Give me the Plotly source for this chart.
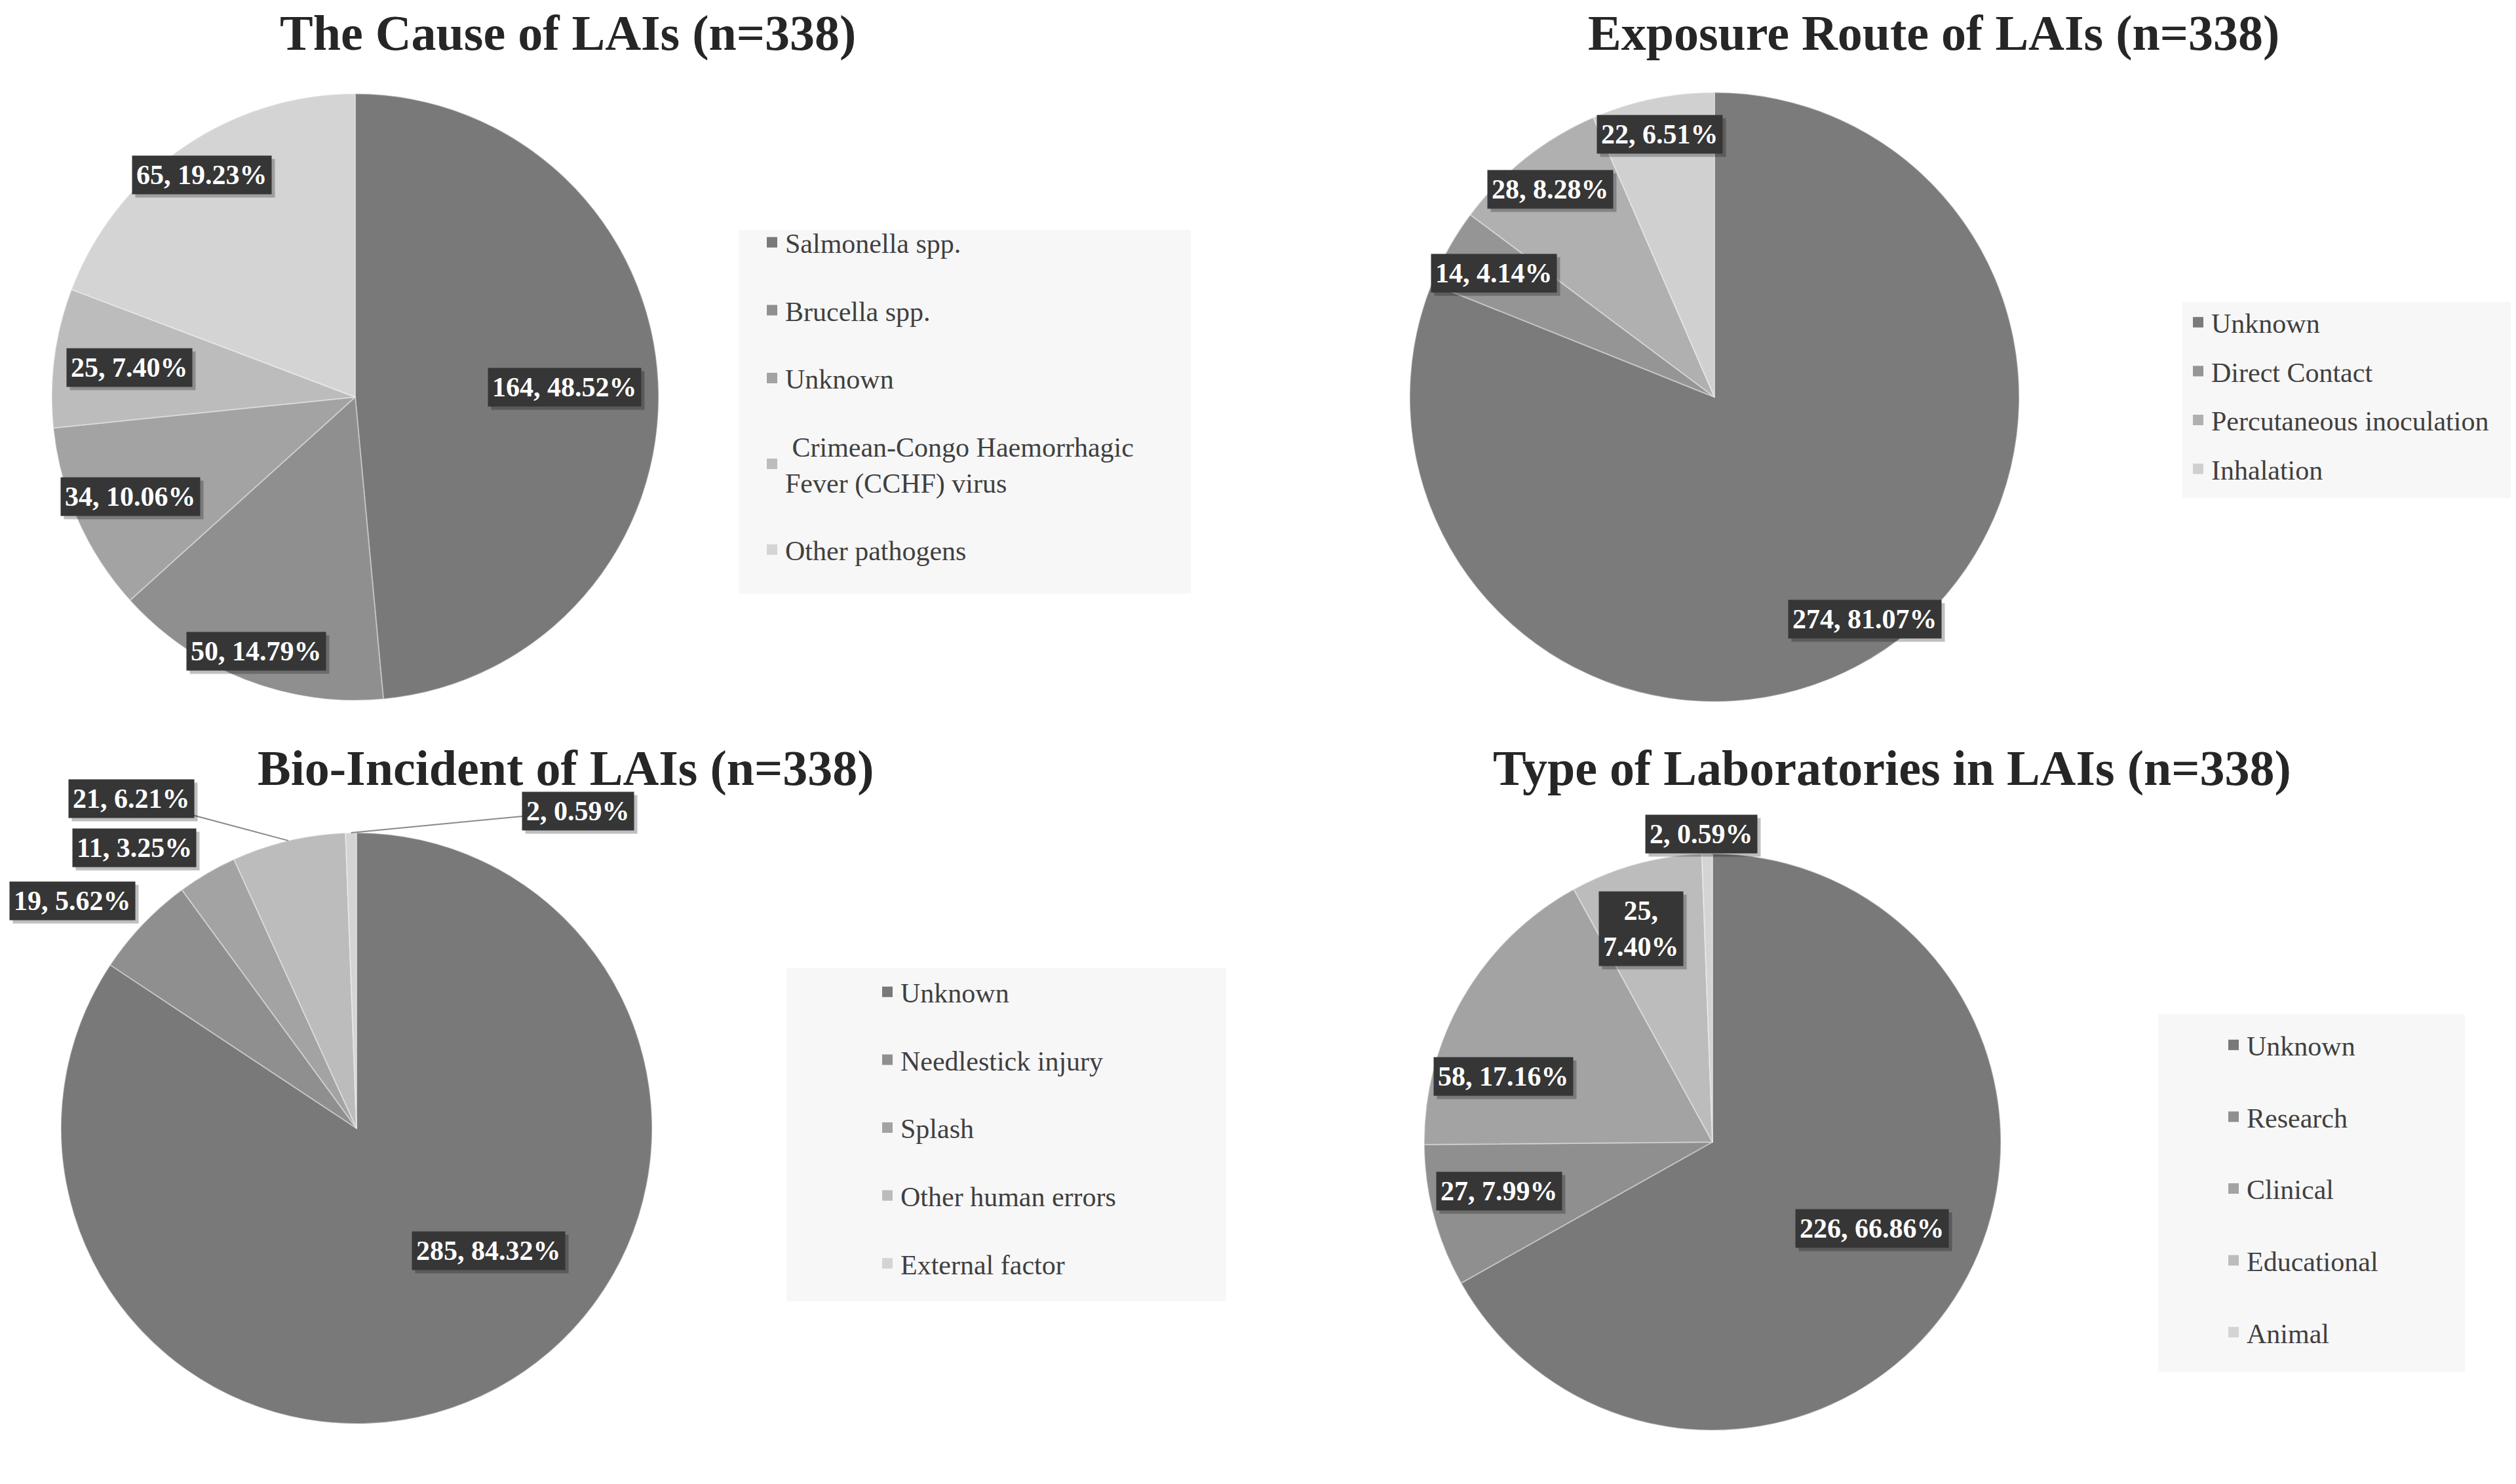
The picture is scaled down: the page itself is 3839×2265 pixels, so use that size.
import math
import plotly.graph_objects as go

# figure size in px
W = 3839
H = 2265

# ---- data ----
cause_title = "The Cause of LAIs (n=338)"
cause_labels = ["Salmonella spp.", "Brucella spp.", "Unknown",
                " Crimean-Congo Haemorrhagic<br>Fever (CCHF) virus", "Other pathogens"]
cause_counts = [164, 50, 34, 25, 65]

route_title = "Exposure Route of LAIs (n=338)"
route_labels = ["Unknown", "Direct Contact", "Percutaneous inoculation", "Inhalation"]
route_counts = [274, 14, 28, 22]

incident_title = "Bio-Incident of LAIs (n=338)"
incident_labels = ["Unknown", "Needlestick injury", "Splash", "Other human errors", "External factor"]
incident_counts = [285, 19, 11, 21, 2]

lab_title = "Type of Laboratories in LAIs (n=338)"
lab_labels = ["Unknown", "Research", "Clinical", "Educational", "Animal"]
lab_counts = [226, 27, 58, 25, 2]

# ---- styling ----
grays5 = ["#797979", "#8f8f8f", "#a3a3a3", "#bcbcbc", "#d4d4d4"]
grays4 = ["#7b7b7b", "#959595", "#b0b0b0", "#d0d0d0"]
SERIF = "Liberation Serif"

charts = [
    dict(title=cause_title, labels=cause_labels, counts=cause_counts, colors=grays5,
         center=(534, 598), radius=463, title_pos=(858, 42),
         label_r=[0.69, 0.90, 0.81, 0.75, 0.89], label_nudge=[0, 0, 0, 0, 0],
         wrap=[], leader=[],
         legend_box=(1119, 343, 1809, 898), legend_pos=(1150, 328), gap=46),
    dict(title=route_title, labels=route_labels, counts=route_counts, colors=grays4,
         center=(2608, 598), radius=465, title_pos=(2942, 42),
         label_r=[0.88, 0.83, 0.87, 0.88], label_nudge=[0, 0, 0, 0],
         wrap=[], leader=[],
         legend_box=(3322, 453, 3839, 752), legend_pos=(3326, 450), gap=17),
    dict(title=incident_title, labels=incident_labels, counts=incident_counts, colors=grays5,
         center=(536, 1714), radius=451, title_pos=(855, 1164),
         label_r=[0.61, 1.23, 1.21, 1.35, 1.31], label_nudge=[-19, -5, -8, -21, 36],
         wrap=[], leader=[3, 4],
         legend_box=(1192, 1469, 1863, 1978), legend_pos=(1326, 1472), gap=46),
    dict(title=lab_title, labels=lab_labels, counts=lab_counts, colors=grays5,
         center=(2605, 1735), radius=440, title_pos=(2879, 1164),
         label_r=[0.63, 0.76, 0.76, 0.78, 1.07], label_nudge=[-2, 2, -13, -3, -1],
         wrap=[3], leader=[],
         legend_box=(3285, 1540, 3753, 2086), legend_pos=(3380, 1553), gap=52),
]


def px_x(x):
    return x / W


def px_y(y):
    return 1 - y / H


fig = go.Figure()
annotations = []
shapes = []
layout_legends = {}

for k, ch in enumerate(charts):
    cx, cy = ch["center"]
    r = ch["radius"]
    total = sum(ch["counts"])
    legend_name = "legend" if k == 0 else "legend%d" % (k + 1)

    fig.add_trace(go.Pie(
        labels=[l.replace("<br>", " ") for l in ch["labels"]],
        values=ch["counts"],
        marker=dict(colors=ch["colors"], line=dict(width=2, color="rgba(255,255,255,0.35)")),
        sort=False, direction="clockwise", rotation=0,
        textinfo="none", showlegend=False, hoverinfo="label+value+percent",
        domain=dict(x=[px_x(cx - r), px_x(cx + r)], y=[px_y(cy + r), px_y(cy - r)]),
    ))

    # legend entries (one group per slice so the gap spreads them out)
    for i, lab in enumerate(ch["labels"]):
        fig.add_trace(go.Scatter(
            x=[None], y=[None], mode="markers", name=lab,
            marker=dict(symbol="square", size=16, color=ch["colors"][i]),
            legend=legend_name, legendgroup="g%d_%d" % (k, i), showlegend=True,
            hoverinfo="skip",
        ))

    lx, ly = ch["legend_pos"]
    layout_legends[legend_name] = dict(
        x=px_x(lx), y=px_y(ly), xanchor="left", yanchor="top",
        bgcolor="rgba(0,0,0,0)", tracegroupgap=ch["gap"], itemwidth=30,
        font=dict(family=SERIF, size=42, color="#404040"),
    )

    # legend background box
    x0, y0, x1, y1 = ch["legend_box"]
    shapes.append(dict(type="rect", xref="paper", yref="paper",
                       x0=px_x(x0), x1=px_x(x1), y0=px_y(y1), y1=px_y(y0),
                       fillcolor="#f7f7f7", line=dict(width=0), layer="below"))

    # title
    tx, ty = ch["title_pos"]
    annotations.append(dict(text="<b>%s</b>" % ch["title"], x=px_x(tx), y=px_y(ty),
                            xref="paper", yref="paper", showarrow=False,
                            xanchor="center", yanchor="middle",
                            font=dict(family=SERIF, size=76, color="#262626")))

    # data labels, placed from the slice mid angles
    cum = 0
    for i, v in enumerate(ch["counts"]):
        mid = (cum + v / 2) / total * 360
        cum += v
        a = math.radians(mid + ch["label_nudge"][i])
        f = ch["label_r"][i]
        lxp = cx + f * r * math.sin(a)
        lyp = cy - f * r * math.cos(a)
        sep = ",<br>" if i in ch["wrap"] else ", "
        txt = "<b>%d%s%.2f%%</b>" % (v, sep, v / total * 100)
        if i in ch["leader"]:
            m = math.radians(mid)
            shapes.append(dict(type="line", xref="paper", yref="paper",
                               x0=px_x(cx + r * math.sin(m)), y0=px_y(cy - r * math.cos(m)),
                               x1=px_x(lxp), y1=px_y(lyp),
                               line=dict(color="#8a8a8a", width=2)))
        # small shadow behind the box
        annotations.append(dict(text=txt, x=px_x(lxp + 5), y=px_y(lyp + 5),
                                xref="paper", yref="paper", showarrow=False,
                                xanchor="center", yanchor="middle",
                                bgcolor="rgba(0,0,0,0.25)", borderpad=6,
                                font=dict(family=SERIF, size=42, color="rgba(0,0,0,0)")))
        annotations.append(dict(text=txt, x=px_x(lxp), y=px_y(lyp),
                                xref="paper", yref="paper", showarrow=False,
                                xanchor="center", yanchor="middle",
                                bgcolor="#363636", borderpad=6,
                                font=dict(family=SERIF, size=42, color="white")))

fig.update_layout(
    width=W, height=H, autosize=False,
    margin=dict(l=0, r=0, t=0, b=0),
    paper_bgcolor="white", plot_bgcolor="white",
    xaxis=dict(visible=False), yaxis=dict(visible=False),
    annotations=annotations, shapes=shapes,
    **layout_legends,
)

fig.write_html("out.html")
